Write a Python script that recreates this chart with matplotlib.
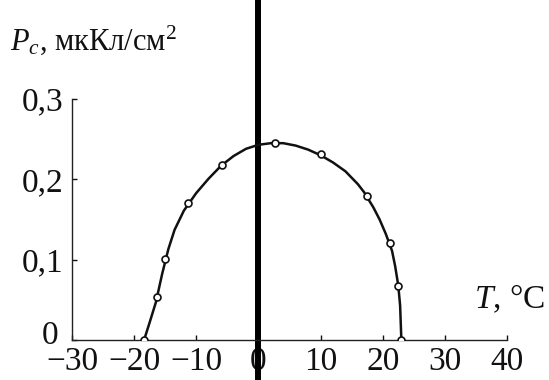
import matplotlib
matplotlib.use("Agg")
import matplotlib.pyplot as plt
from matplotlib.transforms import ScaledTranslation

plt.rcParams['font.family'] = ['Liberation Serif', 'DejaVu Serif']
plt.rcParams['mathtext.fontset'] = 'custom'
plt.rcParams['mathtext.rm'] = 'Liberation Serif'
plt.rcParams['mathtext.it'] = 'Liberation Serif:italic'

# measured points: temperature, deg C  /  polarization, uC/cm^2
T_meas = [-18.4, -16.3, -15.0, -11.3, -5.8, 2.6, 10.1, 17.4, 21.1, 22.4, 23.0]
P_meas = [0.0, 0.053, 0.101, 0.170, 0.218, 0.245, 0.231, 0.179, 0.121, 0.067, 0.0]

# hand-drawn smooth curve through the points
T_curve = [-18.4, -17.5, -16.5, -15.5, -14.5, -13.5, -12, -10, -8, -6, -4, -2,
           0, 2, 4, 6, 8, 10, 12, 14, 16, 17, 18.5, 19.5, 20.5, 21.5, 22,
           22.5, 22.8, 23.0]
P_curve = [0.0, 0.022, 0.047, 0.082, 0.113, 0.137, 0.161, 0.183, 0.201, 0.217,
           0.229, 0.238, 0.243, 0.245, 0.245, 0.242, 0.237, 0.230, 0.221, 0.210,
           0.194, 0.184, 0.165, 0.150, 0.132, 0.111, 0.092, 0.068, 0.043, 0.0]

x_ticks = [-30, -20, -10, 0, 10, 20, 30, 40]
x_labels = ['\u221230', '\u221220', '\u221210', '0', '10', '20', '30', '40']
y_ticks = [0, 0.1, 0.2, 0.3]
y_labels = ['0', '0,1', '0,2', '0,3']

fig = plt.figure(figsize=(5.49, 3.80), dpi=100)
ax = fig.add_axes([72 / 549, 40 / 380, 435 / 549, 241 / 380])

ax.plot(T_curve, P_curve, color='#111111', lw=1.8, zorder=3)
ax.plot(T_meas, P_meas, 'o', ms=5, mfc='white', mec='#111111', mew=1.2, zorder=4)

# thick vertical line at T = 0 running through the whole figure
ax.axvline(0, ymin=-0.17, ymax=1.42, color='black', lw=4.3, clip_on=False, zorder=2)

ax.set_xlim(-30, 40)
ax.set_ylim(0, 0.3)
ax.set_xticks(x_ticks)
ax.set_xticklabels(x_labels)
ax.set_yticks(y_ticks)
ax.set_yticklabels(y_labels)

for s in ['top', 'right']:
    ax.spines[s].set_visible(False)
for s in ['left', 'bottom']:
    ax.spines[s].set_linewidth(1.0)
    ax.spines[s].set_color('#222222')

ax.tick_params(axis='both', direction='in', length=3.5, width=1.0,
               labelsize=24, colors='#111111')
ax.tick_params(axis='x', pad=5)
ax.tick_params(axis='y', pad=6)

# lift the "0" on the y axis clear of the x labels
zero_lbl = ax.get_yticklabels()[0]
zero_lbl.set_transform(zero_lbl.get_transform()
                       + ScaledTranslation(-0.05, 0.08, fig.dpi_scale_trans))

fig.text(10 / 549, 1 - 50 / 380, '$P_c$, мкКл/см$^2$', fontsize=22,
         ha='left', va='baseline', color='#111111')
fig.text(545 / 549, 1 - 308 / 380, '$T$, °C', fontsize=24,
         ha='right', va='baseline', color='#111111')

fig.savefig('out.png', dpi=100, facecolor='white')
